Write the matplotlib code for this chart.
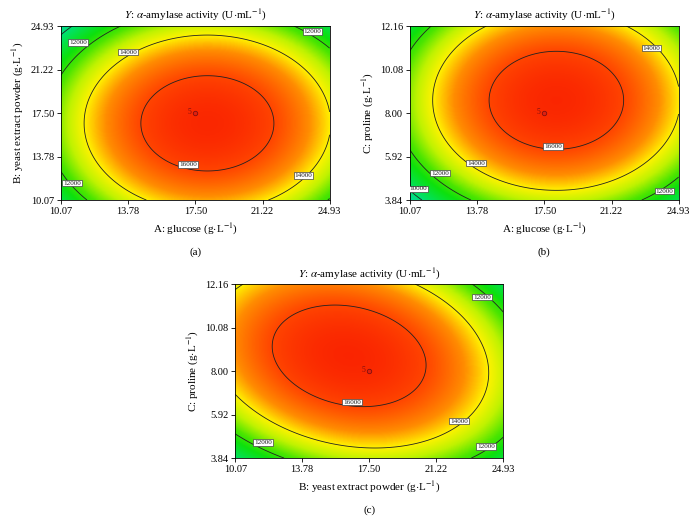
import matplotlib
matplotlib.use("Agg")
import matplotlib.pyplot as plt
from matplotlib.colors import LinearSegmentedColormap
import numpy as np

plt.rcParams['font.family'] = ['Liberation Serif', 'DejaVu Serif']
plt.rcParams['mathtext.fontset'] = 'stix'

# factor ranges (real units), coded -1..+1
glucose_rng = [10.07, 24.93]
yeast_rng = [10.07, 24.93]
proline_rng = [3.84, 12.16]
ticks_ab = [10.07, 13.78, 17.50, 21.22, 24.93]
ticks_c = [3.84, 5.92, 8.00, 10.08, 12.16]

# quadratic model in coded units
b0 = 16756.0
b_lin = [603.0, -648.0, 778.0]        # A, B, C
b_int = [0.0, 0.0, -994.0]            # AB, AC, BC
b_sq = [-3350.0, -2740.0, -2650.0]    # A^2, B^2, C^2

levels = [10000, 12000, 14000, 16000]
center_runs = 5

# colour scale: value -> colour
cmap_vals = [8500, 10000, 11500, 12300, 13200, 14000, 14900, 16000, 17000]
cmap_cols = [(0.0, 0.85, 0.75), (0.0, 0.88, 0.45), (0.05, 0.88, 0.05),
             (0.3, 0.9, 0.0), (0.75, 0.95, 0.0), (1.0, 0.95, 0.0),
             (1.0, 0.55, 0.0), (1.0, 0.27, 0.0), (0.98, 0.13, 0.0)]

TICK_FS = 7.5
LABEL_FS = 8
CLABEL_FS = 5.2


def model(A, B, C):
  return (b0 + b_lin[0]*A + b_lin[1]*B + b_lin[2]*C
          + b_int[0]*A*B + b_int[1]*A*C + b_int[2]*B*C
          + b_sq[0]*A**2 + b_sq[1]*B**2 + b_sq[2]*C**2)


def to_real(c, rng):
  return (rng[0]+rng[1])/2 + c*(rng[1]-rng[0])/2


vmin, vmax = cmap_vals[0], cmap_vals[-1]
cmap = LinearSegmentedColormap.from_list(
  'rsm', [((v-vmin)/(vmax-vmin), c) for v, c in zip(cmap_vals, cmap_cols)])


def panel(fig, rect, pair, xr, yr, xt, yt, xlabel, ylabel, tag, lab_pos):
  ax = fig.add_axes(rect)
  u = np.linspace(-1, 1, 300)
  U, V = np.meshgrid(u, u)
  Z0 = np.zeros_like(U)
  if pair == 'AB':
    Z = model(U, V, Z0)
  elif pair == 'AC':
    Z = model(U, Z0, V)
  else:
    Z = model(Z0, U, V)
  X = to_real(U, xr)
  Y = to_real(V, yr)
  ax.imshow(Z, extent=[xr[0], xr[1], yr[0], yr[1]], origin='lower',
            aspect='auto', cmap=cmap, vmin=vmin, vmax=vmax,
            interpolation='bilinear')
  cs = ax.contour(X, Y, Z, levels=levels, colors='#222222', linewidths=0.6)
  txts = ax.clabel(cs, fmt='%d', fontsize=CLABEL_FS, inline=False,
                   manual=lab_pos)
  for t, p in zip(txts, lab_pos):
    t.set_rotation(0)
    t.set_position(p)
    t.set_bbox(dict(facecolor='white', edgecolor='#444444', linewidth=0.5,
                    pad=0.7))
  cx = (xr[0]+xr[1])/2
  cy = (yr[0]+yr[1])/2
  ax.plot([cx], [cy], 'o', ms=3.2, mfc='#e02010', mec='#801010', mew=0.6)
  ax.text(cx - 0.014*(xr[1]-xr[0]), cy + 0.005*(yr[1]-yr[0]),
          str(center_runs), fontsize=5.5, color='#801010', ha='right',
          va='center')
  ax.set_xlim(xr)
  ax.set_ylim(yr)
  ax.set_xticks(xt)
  ax.set_xticklabels(['%.2f' % v for v in xt], fontsize=TICK_FS)
  ax.set_yticks(yt)
  ax.set_yticklabels(['%.2f' % v for v in yt], fontsize=TICK_FS)
  ax.tick_params(direction='out', length=3, width=0.6, pad=2)
  for s in ax.spines.values():
    s.set_linewidth(0.6)
  ax.set_xlabel(xlabel, fontsize=LABEL_FS, labelpad=4)
  ax.set_ylabel(ylabel, fontsize=LABEL_FS, labelpad=3)
  ax.set_title(r'$Y$: $\alpha$-amylase activity (U$\cdot$mL$^{-1}$)',
               fontsize=LABEL_FS, pad=5)
  ax.text(0.5, -0.30, tag, transform=ax.transAxes, fontsize=LABEL_FS,
          ha='center', va='center')
  return ax


fig = plt.figure(figsize=(6.96, 5.32), dpi=100)

panel(fig, [0.0876, 0.624, 0.386, 0.327], 'AB', glucose_rng, yeast_rng,
      ticks_ab, ticks_ab, r'A: glucose (g$\cdot$L$^{-1}$)',
      r'B: yeast extract powder (g$\cdot$L$^{-1}$)', '(a)',
      [(11.0, 23.56), (23.99, 24.5), (13.77, 22.71), (17.09, 13.14),
       (23.49, 12.2), (10.68, 11.52)])

panel(fig, [0.589, 0.624, 0.386, 0.327], 'AC', glucose_rng, proline_rng,
      ticks_ab, ticks_c, r'A: glucose (g$\cdot$L$^{-1}$)',
      r'C: proline (g$\cdot$L$^{-1}$)', '(b)',
      [(23.44, 11.11), (17.97, 6.42), (13.72, 5.61), (11.73, 5.13),
       (10.51, 4.37), (24.16, 4.27)])

panel(fig, [0.338, 0.139, 0.385, 0.327], 'BC', yeast_rng, proline_rng,
      ticks_ab, ticks_c, r'B: yeast extract powder (g$\cdot$L$^{-1}$)',
      r'C: proline (g$\cdot$L$^{-1}$)', '(c)',
      [(23.77, 11.54), (16.56, 6.52), (22.49, 5.61), (11.62, 4.60),
       (23.99, 4.41)])

fig.savefig('out.png', dpi=100)
